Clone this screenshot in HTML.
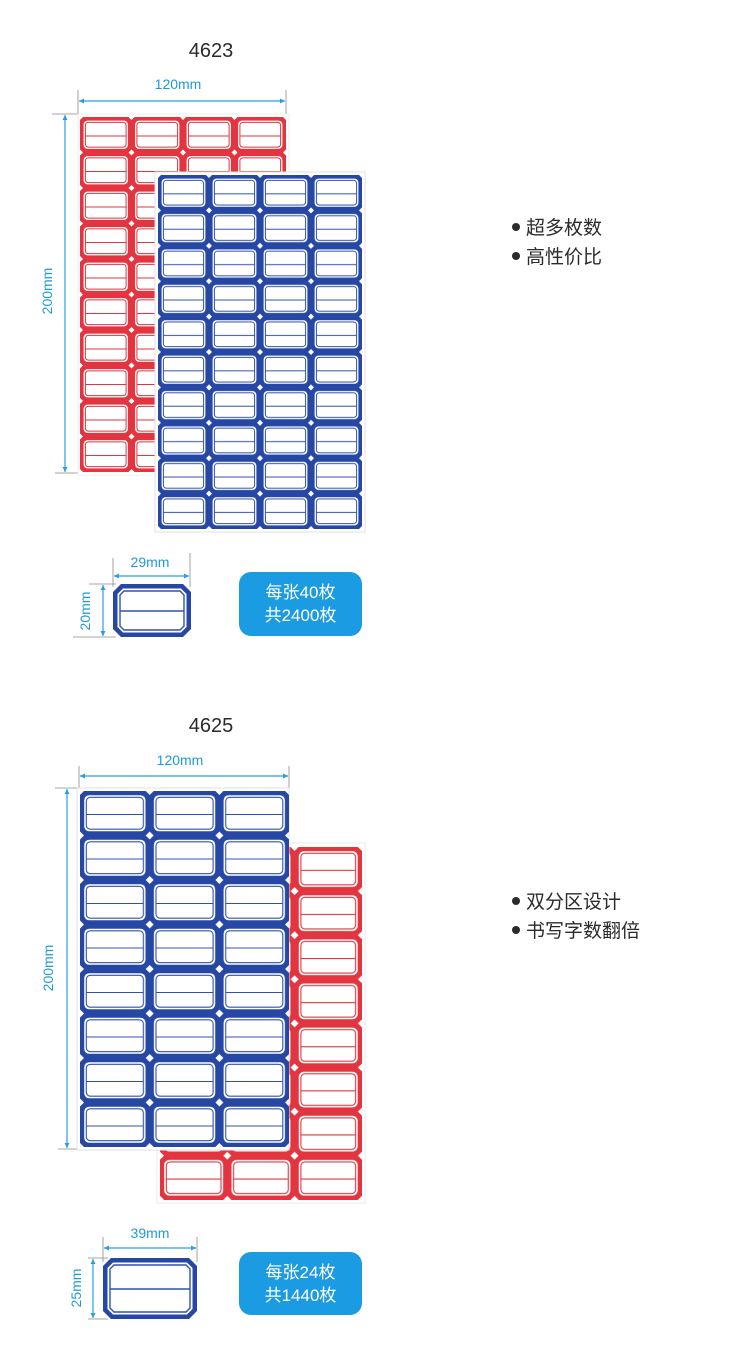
<!DOCTYPE html>
<html><head><meta charset="utf-8">
<style>
html,body{margin:0;padding:0;background:#fff;}
svg{display:block;}
.t{font-family:"Liberation Sans","Noto Sans CJK SC",sans-serif;}
</style></head>
<body>
<svg width="750" height="1371" viewBox="0 0 750 1371" xmlns="http://www.w3.org/2000/svg">
<defs>
  <marker id="ar" viewBox="0 0 10 10" refX="10" refY="5" markerWidth="6" markerHeight="5" orient="auto-start-reverse" markerUnits="userSpaceOnUse">
    <path d="M0,0 L10,5 L0,10 z" fill="#2a9fdc"/>
  </marker>
  <!-- 4623 red -->
  <pattern id="pR1" patternUnits="userSpaceOnUse" x="80" y="117" width="51.5" height="35.5">
    <polygon fill="#e2353f" points="3,0 48.5,0 51.5,3 51.5,32.5 48.5,35.5 3,35.5 0,32.5 0,3"/>
    <rect x="3.6" y="3.6" width="44.3" height="28.3" rx="4" fill="#fff"/>
    <rect x="5.4" y="5.4" width="40.7" height="24.7" rx="3" fill="none" stroke="#e2353f" stroke-width="1"/>
    <line x1="5.4" x2="46.1" y1="19" y2="19" stroke="#e2353f" stroke-width="1"/>
  </pattern>
  <!-- 4623 blue -->
  <pattern id="pB1" patternUnits="userSpaceOnUse" x="158" y="175" width="51" height="35.4">
    <polygon fill="#2747a5" points="3,0 48,0 51,3 51,32.4 48,35.4 3,35.4 0,32.4 0,3"/>
    <rect x="3.6" y="3.6" width="43.8" height="28.2" rx="4" fill="#fff"/>
    <rect x="5.4" y="5.4" width="40.2" height="24.6" rx="3" fill="none" stroke="#2f51b3" stroke-width="1"/>
    <line x1="5.4" x2="45.6" y1="18.8" y2="18.8" stroke="#2f51b3" stroke-width="1"/>
  </pattern>
  <!-- 4625 blue -->
  <pattern id="pB2" patternUnits="userSpaceOnUse" x="80" y="791" width="69.7" height="44.5">
    <polygon fill="#2747a5" points="4,0 65.7,0 69.7,4 69.7,40.5 65.7,44.5 4,44.5 0,40.5 0,4"/>
    <rect x="4.2" y="4.2" width="61.3" height="36.1" rx="5" fill="#fff"/>
    <rect x="6.3" y="6.3" width="57.1" height="31.9" rx="4" fill="none" stroke="#2f51b3" stroke-width="1.1"/>
    <line x1="6.3" x2="63.4" y1="23.5" y2="23.5" stroke="#2f51b3" stroke-width="1.1"/>
  </pattern>
  <!-- 4625 red -->
  <pattern id="pR2" patternUnits="userSpaceOnUse" x="160" y="847" width="67.3" height="44.1">
    <polygon fill="#e2353f" points="4,0 63.3,0 67.3,4 67.3,40.1 63.3,44.1 4,44.1 0,40.1 0,4"/>
    <rect x="4.2" y="4.2" width="58.9" height="35.7" rx="5" fill="#fff"/>
    <rect x="6.3" y="6.3" width="54.7" height="31.5" rx="4" fill="none" stroke="#e2353f" stroke-width="1.1"/>
    <line x1="6.3" x2="61" y1="23.3" y2="23.3" stroke="#e2353f" stroke-width="1.1"/>
  </pattern>
</defs>

<!-- ================= SECTION 4623 ================= -->
<text class="t" x="211" y="57" font-size="20" fill="#2a2a2a" text-anchor="middle">4623</text>
<text class="t" x="178" y="89" font-size="14" fill="#1f9ad8" text-anchor="middle">120mm</text>

<!-- extension lines -->
<g stroke="#8a8a8a" stroke-width="0.8">
  <line x1="78" y1="90" x2="78" y2="118"/>
  <line x1="286" y1="90" x2="286" y2="116"/>
  <line x1="52" y1="114" x2="86" y2="114"/>
  <line x1="55" y1="473" x2="84" y2="473"/>
</g>
<line x1="79" y1="101" x2="285" y2="101" stroke="#2a9fdc" stroke-width="1.2" marker-start="url(#ar)" marker-end="url(#ar)"/>
<line x1="65" y1="115" x2="65" y2="472" stroke="#2a9fdc" stroke-width="1.2" marker-start="url(#ar)" marker-end="url(#ar)"/>
<text class="t" x="0" y="0" font-size="14" fill="#1f9ad8" text-anchor="middle" transform="translate(52,291) rotate(-90)">200mm</text>

<!-- red sheet -->
<rect x="78" y="114" width="211" height="361" fill="#fff" stroke="#ececec" stroke-width="1"/>
<rect x="80" y="117" width="206" height="355" fill="url(#pR1)"/>
<!-- blue sheet -->
<rect x="155" y="172" width="210" height="360" fill="#fff" stroke="#e2e2e2" stroke-width="1"/>
<rect x="158" y="175" width="204" height="354" fill="url(#pB1)"/>

<!-- bullets -->
<g class="t" font-size="19" fill="#2b2b2b">
  <circle cx="516" cy="227" r="4" fill="#2b2b2b"/>
  <text x="526" y="234">超多枚数</text>
  <circle cx="516" cy="256" r="4" fill="#2b2b2b"/>
  <text x="526" y="263">高性价比</text>
</g>

<!-- small label 29x20 -->
<text class="t" x="150" y="567" font-size="14" fill="#1f9ad8" text-anchor="middle">29mm</text>
<g stroke="#8a8a8a" stroke-width="0.8">
  <line x1="113" y1="558" x2="113" y2="587"/>
  <line x1="190" y1="553" x2="190" y2="587"/>
  <line x1="89" y1="584" x2="116" y2="584"/>
  <line x1="73" y1="637" x2="116" y2="637"/>
</g>
<line x1="114" y1="576" x2="189" y2="576" stroke="#2a9fdc" stroke-width="1.2" marker-start="url(#ar)" marker-end="url(#ar)"/>
<line x1="103" y1="585" x2="103" y2="636" stroke="#2a9fdc" stroke-width="1.2" marker-start="url(#ar)" marker-end="url(#ar)"/>
<text class="t" x="0" y="0" font-size="14" fill="#1f9ad8" text-anchor="middle" transform="translate(90,611) rotate(-90)">20mm</text>
<polygon fill="#2747a5" points="121,584 183,584 191,592 191,629 183,637 121,637 113,629 113,592"/>
<polygon fill="#fff" points="123,588.5 181,588.5 186.5,594 186.5,627 181,632.5 123,632.5 117.5,627 117.5,594"/>
<polygon fill="none" stroke="#2f51b3" stroke-width="1.4" points="124,591 180,591 184,595 184,626 180,630 124,630 120,626 120,595"/>
<line x1="120" y1="611" x2="184" y2="611" stroke="#2f51b3" stroke-width="1.4"/>

<!-- badge 1 -->
<rect x="239" y="572" width="123" height="64" rx="12" fill="#1b9be2"/>
<text class="t" x="300.5" y="598" font-size="17" fill="#fff" text-anchor="middle">每张40枚</text>
<text class="t" x="300.5" y="621" font-size="17" fill="#fff" text-anchor="middle">共2400枚</text>

<!-- ================= SECTION 4625 ================= -->
<text class="t" x="211" y="732" font-size="20" fill="#2a2a2a" text-anchor="middle">4625</text>
<text class="t" x="180" y="765" font-size="14" fill="#1f9ad8" text-anchor="middle">120mm</text>
<g stroke="#8a8a8a" stroke-width="0.8">
  <line x1="79" y1="766" x2="79" y2="793"/>
  <line x1="289" y1="766" x2="289" y2="791"/>
  <line x1="55" y1="788" x2="86" y2="788"/>
  <line x1="58" y1="1149" x2="82" y2="1149"/>
</g>
<line x1="80" y1="776" x2="288" y2="776" stroke="#2a9fdc" stroke-width="1.2" marker-start="url(#ar)" marker-end="url(#ar)"/>
<line x1="67" y1="789" x2="67" y2="1148" stroke="#2a9fdc" stroke-width="1.2" marker-start="url(#ar)" marker-end="url(#ar)"/>
<text class="t" x="0" y="0" font-size="14" fill="#1f9ad8" text-anchor="middle" transform="translate(53,968) rotate(-90)">200mm</text>

<!-- red sheet (behind) -->
<rect x="157" y="843" width="208" height="360" fill="#fff" stroke="#e8e8e8" stroke-width="1"/>
<rect x="160" y="847" width="202" height="353" fill="url(#pR2)"/>
<!-- blue sheet (front) -->
<rect x="77" y="788" width="212" height="362" fill="#fff" stroke="#e2e2e2" stroke-width="1"/>
<rect x="80" y="791" width="209" height="356" fill="url(#pB2)"/>

<!-- bullets -->
<g class="t" font-size="19" fill="#2b2b2b">
  <circle cx="516" cy="901" r="4" fill="#2b2b2b"/>
  <text x="526" y="908">双分区设计</text>
  <circle cx="516" cy="930" r="4" fill="#2b2b2b"/>
  <text x="526" y="937">书写字数翻倍</text>
</g>

<!-- small label 39x25 -->
<text class="t" x="150" y="1238" font-size="14" fill="#1f9ad8" text-anchor="middle">39mm</text>
<g stroke="#8a8a8a" stroke-width="0.8">
  <line x1="103" y1="1237" x2="103" y2="1262"/>
  <line x1="197" y1="1237" x2="197" y2="1262"/>
  <line x1="88" y1="1258" x2="108" y2="1258"/>
  <line x1="88" y1="1319" x2="108" y2="1319"/>
</g>
<line x1="104" y1="1248" x2="196" y2="1248" stroke="#2a9fdc" stroke-width="1.2" marker-start="url(#ar)" marker-end="url(#ar)"/>
<line x1="93" y1="1259" x2="93" y2="1318" stroke="#2a9fdc" stroke-width="1.2" marker-start="url(#ar)" marker-end="url(#ar)"/>
<text class="t" x="0" y="0" font-size="14" fill="#1f9ad8" text-anchor="middle" transform="translate(81,1288) rotate(-90)">25mm</text>
<polygon fill="#2747a5" points="111,1258 189,1258 197,1266 197,1311 189,1319 111,1319 103,1311 103,1266"/>
<polygon fill="#fff" points="113,1262.5 187,1262.5 192.5,1268 192.5,1309 187,1314.5 113,1314.5 107.5,1309 107.5,1268"/>
<polygon fill="none" stroke="#2f51b3" stroke-width="1.4" points="114,1265 186,1265 190,1269 190,1308 186,1312 114,1312 110,1308 110,1269"/>
<line x1="110" y1="1289" x2="190" y2="1289" stroke="#2f51b3" stroke-width="1.4"/>

<!-- badge 2 -->
<rect x="239" y="1252" width="123" height="63" rx="12" fill="#1b9be2"/>
<text class="t" x="300.5" y="1278" font-size="17" fill="#fff" text-anchor="middle">每张24枚</text>
<text class="t" x="300.5" y="1301" font-size="17" fill="#fff" text-anchor="middle">共1440枚</text>
</svg>
</body></html>
